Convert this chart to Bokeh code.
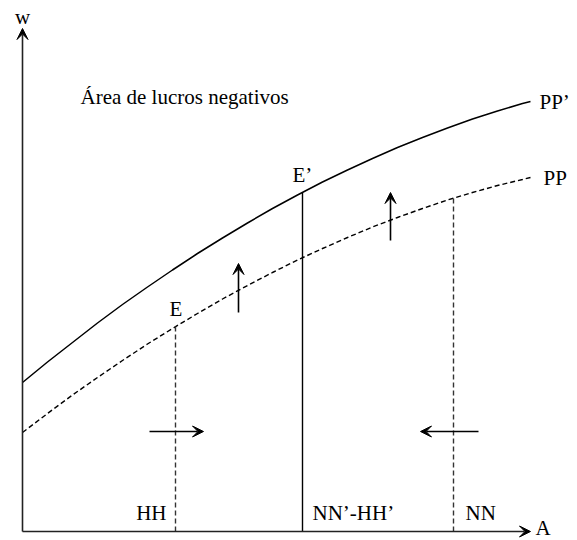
from bokeh.plotting import figure
from bokeh.models import Range1d, Arrow, VeeHead, ColumnDataSource
from bokeh.core.properties import value
from bokeh.embed import file_html
from bokeh.resources import INLINE

# ---- data (A on horizontal axis, w on vertical axis) ----
A_pts = [0, 0.5, 1, 1.5, 2, 2.5, 3, 3.5, 4, 4.5, 5, 5.5, 6, 6.5, 7, 7.5, 8, 8.5, 9, 9.5, 10, 10.16]
w_pp_new = [2.98, 3.39, 3.78, 4.17, 4.54, 4.89, 5.23, 5.56, 5.87, 6.17, 6.46, 6.73, 6.99,
            7.23, 7.46, 7.68, 7.88, 8.07, 8.25, 8.41, 8.56, 8.60]   # PP'
w_pp_old = [1.98, 2.36, 2.73, 3.08, 3.42, 3.75, 4.06, 4.36, 4.65, 4.92, 5.18, 5.43, 5.66,
            5.88, 6.09, 6.28, 6.46, 6.63, 6.78, 6.92, 7.04, 7.08]   # PP

E_pt = (3.06, 4.10)       # E  on PP  (HH)
E2_pt = (5.60, 6.78)      # E' on PP' (NN'-HH')
NN_pt = (8.62, 6.66)      # NN on PP

axis_end_A = 10.16
axis_end_w = 10.06

up_arrows_A = [4.32, 7.36]
up_arrows_w0 = [4.38, 5.82]
up_arrows_w1 = [5.36, 6.78]

h_arrows_w = [2.0, 2.0]
h_arrows_A0 = [2.54, 9.12]
h_arrows_A1 = [3.62, 7.96]

labels = ["w", "A", "Área de lucros negativos", "PP’", "PP", "E", "E’", "HH", "NN’-HH’", "NN"]
label_A = [0.0, 10.26, 1.16, 10.34, 10.42, 3.07, 5.40, 2.88, 5.80, 8.86]
label_w = [10.30, 0.07, 8.70, 8.60, 7.08, 4.46, 7.14, 0.38, 0.38, 0.38]
label_align = ["center", "left", "left", "left", "left", "center", "left", "right", "left", "left"]

# ---- figure ----
p = figure(width=577, height=540, output_backend="svg", toolbar_location=None,
           x_range=Range1d(-0.44, 11.10), y_range=Range1d(-0.18, 10.62),
           x_axis_type=None, y_axis_type=None, min_border=0)
p.grid.visible = False
p.outline_line_color = None
p.background_fill_color = "white"
p.border_fill_color = "white"

# axes with arrowheads
p.add_layout(Arrow(end=VeeHead(size=11, fill_color="black", line_color="black"),
                   x_start=0, y_start=0, x_end=0, y_end=axis_end_w,
                   line_color="#222222", line_width=1.6))
p.add_layout(Arrow(end=VeeHead(size=11, fill_color="black", line_color="black"),
                   x_start=0, y_start=0, x_end=axis_end_A, y_end=0,
                   line_color="#222222", line_width=1.6))

# curves
p.line(A_pts, w_pp_new, line_color="black", line_width=1.5)
p.line(A_pts, w_pp_old, line_color="black", line_width=1.4, line_dash="5 3")

# vertical lines
p.line([E_pt[0], E_pt[0]], [0, E_pt[1]], line_color="#333333", line_width=1.4, line_dash="5 3")
p.line([E2_pt[0], E2_pt[0]], [0, E2_pt[1]], line_color="black", line_width=1.4)
p.line([NN_pt[0], NN_pt[0]], [0, NN_pt[1]], line_color="#333333", line_width=1.4, line_dash="5 3")

# shift arrows
for a, w0, w1 in zip(up_arrows_A, up_arrows_w0, up_arrows_w1):
    p.add_layout(Arrow(end=VeeHead(size=11, fill_color="black", line_color="black"),
                       x_start=a, y_start=w0, x_end=a, y_end=w1,
                       line_color="black", line_width=1.6))
for w, a0, a1 in zip(h_arrows_w, h_arrows_A0, h_arrows_A1):
    p.add_layout(Arrow(end=VeeHead(size=11, fill_color="black", line_color="black"),
                       x_start=a0, y_start=w, x_end=a1, y_end=w,
                       line_color="black", line_width=1.6))

# labels
src = ColumnDataSource(dict(x=label_A, y=label_w, t=labels, align=label_align))
p.text(x="x", y="y", text="t", source=src, text_align="align",
       text_baseline="alphabetic", text_font=value("Liberation Serif"),
       text_font_size="21px", text_color="black")

open("out.html", "w").write(file_html(p, INLINE))
